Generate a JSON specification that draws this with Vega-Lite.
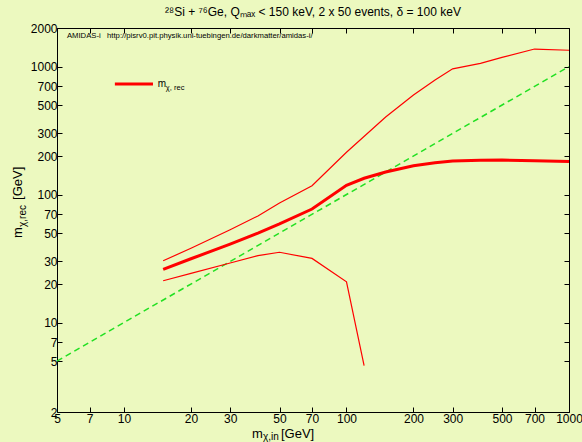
{
  "$schema": "https://vega.github.io/schema/vega-lite/v6.json",
  "width": 512,
  "height": 384,
  "autosize": {"type": "none"},
  "padding": {"left": 57, "top": 28, "right": 13, "bottom": 30},
  "background": "#ecf9bf",
  "title": {
    "text": "²⁸Si + ⁷⁶Ge, Qₘₐₓ < 150 keV, 2 x 50 events, δ = 100 keV",
    "font": "Liberation Sans",
    "fontSize": 12,
    "fontWeight": "normal",
    "color": "#000000",
    "anchor": "middle",
    "offset": 3
  },
  "config": {
    "view": {"stroke": "#000000", "strokeWidth": 1, "fill": "#ecf9bf"},
    "axis": {
      "domain": false,
      "grid": false,
      "ticks": true,
      "tickSize": -5,
      "tickColor": "#000000",
      "tickWidth": 1,
      "labelFont": "Liberation Sans",
      "labelFontSize": 12,
      "labelColor": "#000000",
      "labelFlush": false,
      "labelOverlap": false
    }
  },
  "datasets": {
    "curves": [
      {"series": "center", "m_in": 15, "m_rec": 26},
      {"series": "center", "m_in": 20, "m_rec": 31.5},
      {"series": "center", "m_in": 30, "m_rec": 41},
      {"series": "center", "m_in": 40, "m_rec": 50},
      {"series": "center", "m_in": 50, "m_rec": 59},
      {"series": "center", "m_in": 70, "m_rec": 77},
      {"series": "center", "m_in": 100, "m_rec": 118},
      {"series": "center", "m_in": 120, "m_rec": 134},
      {"series": "center", "m_in": 150, "m_rec": 150},
      {"series": "center", "m_in": 200, "m_rec": 168},
      {"series": "center", "m_in": 250, "m_rec": 177},
      {"series": "center", "m_in": 300, "m_rec": 183},
      {"series": "center", "m_in": 400, "m_rec": 185},
      {"series": "center", "m_in": 500, "m_rec": 186},
      {"series": "center", "m_in": 700, "m_rec": 184},
      {"series": "center", "m_in": 1000, "m_rec": 181},
      {"series": "upper", "m_in": 15, "m_rec": 30.4},
      {"series": "upper", "m_in": 20, "m_rec": 38},
      {"series": "upper", "m_in": 30, "m_rec": 53},
      {"series": "upper", "m_in": 40, "m_rec": 68},
      {"series": "upper", "m_in": 50, "m_rec": 86},
      {"series": "upper", "m_in": 70, "m_rec": 117},
      {"series": "upper", "m_in": 100, "m_rec": 214},
      {"series": "upper", "m_in": 150, "m_rec": 403},
      {"series": "upper", "m_in": 200, "m_rec": 600},
      {"series": "upper", "m_in": 250, "m_rec": 785},
      {"series": "upper", "m_in": 300, "m_rec": 960},
      {"series": "upper", "m_in": 400, "m_rec": 1060},
      {"series": "upper", "m_in": 500, "m_rec": 1180},
      {"series": "upper", "m_in": 700, "m_rec": 1370},
      {"series": "upper", "m_in": 1000, "m_rec": 1340},
      {"series": "lower", "m_in": 15, "m_rec": 21.2},
      {"series": "lower", "m_in": 20, "m_rec": 24.2},
      {"series": "lower", "m_in": 30, "m_rec": 29.2},
      {"series": "lower", "m_in": 40, "m_rec": 33.3},
      {"series": "lower", "m_in": 50, "m_rec": 35.4},
      {"series": "lower", "m_in": 70, "m_rec": 31.7},
      {"series": "lower", "m_in": 100, "m_rec": 20.8},
      {"series": "lower", "m_in": 120, "m_rec": 4.6}
    ],
    "diag": [
      {"m_in": 5, "m_rec": 5},
      {"m_in": 1000, "m_rec": 1000}
    ]
  },
  "resolve": {"axis": {"x": "independent", "y": "independent"}},
  "layer": [
    {
      "data": {"name": "diag"},
      "mark": {"type": "line", "color": "#22e022", "strokeWidth": 1.5, "strokeDash": [6, 4]},
      "encoding": {
        "x": {
          "field": "m_in", "type": "quantitative",
          "scale": {"type": "log", "domain": [5, 1000], "nice": false},
          "axis": {"orient": "bottom", "title": null, "format": "d", "labelPadding": 6,
                   "values": [5, 7, 10, 20, 30, 50, 70, 100, 200, 300, 500, 700, 1000]}
        },
        "y": {
          "field": "m_rec", "type": "quantitative",
          "scale": {"type": "log", "domain": [2, 2000], "nice": false},
          "axis": {"orient": "left", "title": null, "format": "d", "labelPadding": 5,
                   "values": [2, 5, 7, 10, 20, 30, 50, 70, 100, 200, 300, 500, 700, 1000, 2000]}
        }
      }
    },
    {
      "data": {"name": "curves"},
      "transform": [{"filter": "datum.series !== 'center'"}],
      "mark": {"type": "line", "color": "#ff0000", "strokeWidth": 1.2},
      "encoding": {
        "x": {"field": "m_in", "type": "quantitative", "axis": null},
        "y": {"field": "m_rec", "type": "quantitative", "axis": null},
        "detail": {"field": "series"}
      }
    },
    {
      "data": {"name": "curves"},
      "transform": [{"filter": "datum.series === 'center'"}],
      "mark": {"type": "line", "color": "#ff0000", "strokeWidth": 3},
      "encoding": {
        "x": {"field": "m_in", "type": "quantitative",
              "axis": {"orient": "top", "title": null, "labels": false,
                       "values": [5, 7, 10, 20, 30, 50, 70, 100, 200, 300, 500, 700, 1000]}},
        "y": {"field": "m_rec", "type": "quantitative",
              "axis": {"orient": "right", "title": null, "labels": false,
                       "values": [2, 5, 7, 10, 20, 30, 50, 70, 100, 200, 300, 500, 700, 1000, 2000]}}
      }
    },
    {
      "data": {"values": [{}]},
      "mark": {"type": "rule", "color": "#ff0000", "strokeWidth": 3},
      "encoding": {
        "x": {"datum": 9.1, "axis": null},
        "x2": {"datum": 13.5},
        "y": {"datum": 730, "axis": null}
      }
    },
    {
      "data": {"values": [{"t": "m"}]},
      "mark": {"type": "text", "font": "Liberation Sans", "fontSize": 10, "align": "left", "baseline": "alphabetic", "color": "#000000"},
      "encoding": {
        "x": {"datum": 14.2, "axis": null},
        "y": {"datum": 694, "axis": null},
        "text": {"field": "t"}
      }
    },
    {
      "data": {"values": [{"t": "χ, rec"}]},
      "mark": {"type": "text", "font": "Liberation Sans", "fontSize": 7.5, "align": "left", "baseline": "alphabetic", "dx": 8, "dy": 3, "color": "#000000"},
      "encoding": {
        "x": {"datum": 14.2, "axis": null},
        "y": {"datum": 694, "axis": null},
        "text": {"field": "t"}
      }
    },
    {
      "data": {"values": [{"t": "AMIDAS-i\u00a0\u00a0\u00a0http://pisrv0.pit.physik.uni-tuebingen.de/darkmatter/amidas-i/"}]},
      "mark": {"type": "text", "font": "Liberation Sans", "fontSize": 7.7, "align": "left", "baseline": "alphabetic", "color": "#000000"},
      "encoding": {
        "x": {"datum": 5.54, "axis": null},
        "y": {"datum": 1656, "axis": null},
        "text": {"field": "t"}
      }
    },
    {
      "data": {"values": [{"t": "m"}]},
      "mark": {"type": "text", "font": "Liberation Sans", "fontSize": 13, "align": "left", "baseline": "alphabetic", "dy": 26, "color": "#000000"},
      "encoding": {
        "x": {"datum": 37.6, "axis": null},
        "y": {"datum": 2, "axis": null},
        "text": {"field": "t"}
      }
    },
    {
      "data": {"values": [{"t": "χ,in"}]},
      "mark": {"type": "text", "font": "Liberation Sans", "fontSize": 10, "align": "left", "baseline": "alphabetic", "dx": 11, "dy": 28, "color": "#000000"},
      "encoding": {
        "x": {"datum": 37.6, "axis": null},
        "y": {"datum": 2, "axis": null},
        "text": {"field": "t"}
      }
    },
    {
      "data": {"values": [{"t": "[GeV]"}]},
      "mark": {"type": "text", "font": "Liberation Sans", "fontSize": 13, "align": "left", "baseline": "alphabetic", "dx": 29, "dy": 26, "color": "#000000"},
      "encoding": {
        "x": {"datum": 37.6, "axis": null},
        "y": {"datum": 2, "axis": null},
        "text": {"field": "t"}
      }
    },
    {
      "data": {"values": [{"t": "m"}]},
      "mark": {"type": "text", "font": "Liberation Sans", "fontSize": 13, "align": "left", "baseline": "alphabetic", "angle": 270, "dy": -35, "color": "#000000"},
      "encoding": {
        "x": {"datum": 5, "axis": null},
        "y": {"datum": 45.8, "axis": null},
        "text": {"field": "t"}
      }
    },
    {
      "data": {"values": [{"t": "χ,rec"}]},
      "mark": {"type": "text", "font": "Liberation Sans", "fontSize": 10, "align": "left", "baseline": "alphabetic", "angle": 270, "dx": 11, "dy": -31, "color": "#000000"},
      "encoding": {
        "x": {"datum": 5, "axis": null},
        "y": {"datum": 45.8, "axis": null},
        "text": {"field": "t"}
      }
    },
    {
      "data": {"values": [{"t": "[GeV]"}]},
      "mark": {"type": "text", "font": "Liberation Sans", "fontSize": 13, "align": "left", "baseline": "alphabetic", "angle": 270, "dx": 38, "dy": -35, "color": "#000000"},
      "encoding": {
        "x": {"datum": 5, "axis": null},
        "y": {"datum": 45.8, "axis": null},
        "text": {"field": "t"}
      }
    }
  ]
}
